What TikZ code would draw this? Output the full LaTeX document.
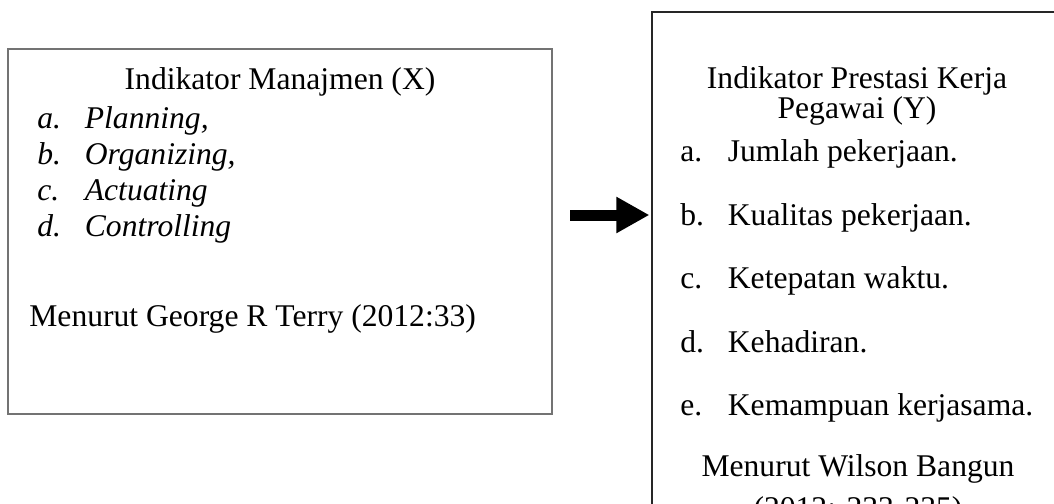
\documentclass[tikz,border=0pt]{standalone}
\usepackage{fontspec}
\setmainfont{Liberation Serif}
\usetikzlibrary{arrows.meta,scopes}

\newcommand{\itm}[1]{\makebox[23.75pt][l]{#1}}
\tikzset{
  every node/.style={font=\fontsize{15.8}{19}\selectfont, inner sep=0pt},
  itemline/.style={anchor=base west},
  headline/.style={anchor=base},
}

\begin{document}
\begin{tikzpicture}[x=0.5pt,y=-0.5pt]
\useasboundingbox (0,0) rectangle (1054,503);
\clip (0,0) rectangle (1054,503);

\path node[draw=black!55, line width=0.75pt, minimum width=272pt, minimum height=182.5pt] (boxX) at (280,231.5) {}
      node[draw=black!85, line width=0.6pt, minimum width=214pt, minimum height=264pt]   (boxY) at (866,276) {};

\path node[headline] (tX)   at (280,89)  {Indikator Manajmen (X)}
      node[itemline] (x1)   at (37,128)  {\itshape\itm{a.}Planning,}
      node[itemline] (x2)   at (37,164)  {\itshape\itm{b.}Organizing,}
      node[itemline] (x3)   at (37,200)  {\itshape\itm{c.}Actuating}
      node[itemline] (x4)   at (37,236)  {\itshape\itm{d.}Controlling}
      node[itemline] (srcX) at (29,326)  {Menurut George R Terry (2012:33)};

\path node[headline] (tY1)  at (857,88)  {Indikator Prestasi Kerja}
      node[headline] (tY2)  at (857,118) {Pegawai (Y)}
      node[itemline] (y1)   at (680,161) {\itm{a.}Jumlah pekerjaan.}
      node[itemline] (y2)   at (680,225) {\itm{b.}Kualitas pekerjaan.}
      node[itemline] (y3)   at (680,288) {\itm{c.}Ketepatan waktu.}
      node[itemline] (y4)   at (680,352) {\itm{d.}Kehadiran.}
      node[itemline] (y5)   at (680,415) {\itm{e.}Kemampuan kerjasama.}
      node[headline] (srcY) at (858,476) {Menurut Wilson Bangun}
      node[headline] (srcY2) at (858,518) {(2012: 233-235)};

\coordinate (arrS) at (570,215);
{ [line width=5.5pt, -{Triangle[length=16.5pt,width=17pt]}, shorten >=1pt]
  \draw (arrS) -- (boxY.west |- arrS);
}
\end{tikzpicture}
\end{document}
